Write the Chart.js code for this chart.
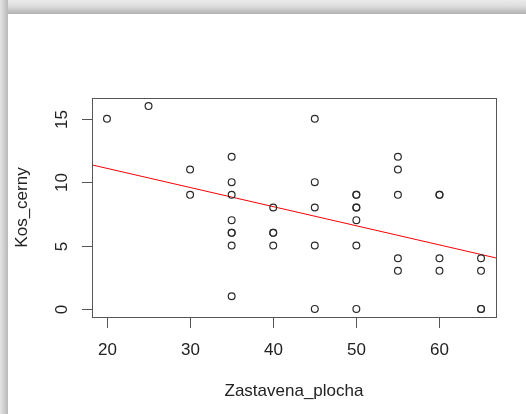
<!DOCTYPE html>
<html>
<head>
<meta charset="utf-8">
<script src="https://cdn.jsdelivr.net/npm/chart.js@4/dist/chart.umd.min.js"></script>
<style>
  body { margin: 0; background: #fff; }
  #wrap { position: relative; width: 526px; height: 414px; overflow: hidden; background: #fff; }
  #topShade { position: absolute; left: 0; top: 0; width: 526px; height: 14px;
    background: linear-gradient(to bottom, #ebebeb, #dcdcdc 45%, #b2b2b2); }
  #leftShade { position: absolute; left: 0; top: 0; width: 8px; height: 414px;
    background: linear-gradient(to right, #e4e4e4, #cfcfcf 50%, #b8b8b8); }
  canvas { position: absolute; left: 0; top: 0; }
</style>
</head>
<body>
<div id="wrap">
  <div id="topShade"></div>
  <div id="leftShade"></div>
  <canvas id="graf" width="526" height="414"></canvas>
</div>
<script>
// pozorovani: zastavena plocha (x) a pocet kosu cernych (y)
const zastavenaPlocha = [20, 25, 30, 30, 35, 35, 35, 35, 35, 35, 35, 35,
  40, 40, 40, 40, 45, 45, 45, 45, 45, 50, 50, 50, 50, 50, 50, 50,
  55, 55, 55, 55, 55, 60, 60, 60, 60, 65, 65, 65, 65];
const kosCerny = [15, 16, 11, 9, 12, 10, 9, 7, 6, 6, 5, 1,
  8, 6, 6, 5, 15, 10, 8, 5, 0, 9, 9, 8, 8, 7, 5, 0,
  12, 11, 9, 4, 3, 9, 9, 4, 3, 4, 3, 0, 0];

// regresni primka (konce na okrajich grafu)
const primkaX = [18.2, 66.8];
const primkaY = [11.36, 4.02];

const xTicks = [20, 30, 40, 50, 60];
const yTicks = [0, 5, 10, 15];
const nazevX = 'Zastavena_plocha';
const nazevY = 'Kos_cerny';

const body = zastavenaPlocha.map((x, i) => ({ x: x, y: kosCerny[i] }));
const primka = primkaX.map((x, i) => ({ x: x, y: primkaY[i] }));

const pismo = '17px "Liberation Sans", Arial, sans-serif';

// osy ve stylu R: ramecek, vnejsi carky a svisle popisky
const osyR = {
  id: 'osyR',
  afterDraw(chart) {
    const ctx = chart.ctx;
    const a = chart.chartArea;
    const sx = chart.scales.x;
    const sy = chart.scales.y;
    ctx.save();
    ctx.strokeStyle = '#555';
    ctx.lineWidth = 1;
    ctx.strokeRect(Math.round(a.left) + 0.5, Math.round(a.top) + 0.5,
      Math.round(a.right - a.left), Math.round(a.bottom - a.top));

    ctx.fillStyle = '#222';
    ctx.font = pismo;
    ctx.textAlign = 'center';
    ctx.textBaseline = 'middle';

    xTicks.forEach(v => {
      const px = Math.round(sx.getPixelForValue(v)) + 0.5;
      ctx.beginPath();
      ctx.moveTo(px, Math.round(a.bottom));
      ctx.lineTo(px, Math.round(a.bottom) + 11);
      ctx.stroke();
      ctx.fillText(String(v), px, a.bottom + 33);
    });

    yTicks.forEach(v => {
      const py = Math.round(sy.getPixelForValue(v)) + 0.5;
      ctx.beginPath();
      ctx.moveTo(Math.round(a.left) - 10, py);
      ctx.lineTo(Math.round(a.left), py);
      ctx.stroke();
      ctx.save();
      ctx.translate(a.left - 30, py);
      ctx.rotate(-Math.PI / 2);
      ctx.fillText(String(v), 0, 0);
      ctx.restore();
    });

    const stredX = (a.left + a.right) / 2;
    const stredY = (a.top + a.bottom) / 2;
    ctx.fillText(nazevX, stredX, a.bottom + 74);
    ctx.save();
    ctx.translate(22, stredY);
    ctx.rotate(-Math.PI / 2);
    ctx.fillText(nazevY, 0, 0);
    ctx.restore();
    ctx.restore();
  }
};

new Chart(document.getElementById('graf'), {
  type: 'scatter',
  data: {
    datasets: [
      {
        label: 'pozorovani',
        data: body,
        pointRadius: 3.4,
        pointBorderWidth: 1.2,
        borderColor: '#2a2a2a',
        backgroundColor: 'rgba(0,0,0,0)',
        pointHoverRadius: 3.4
      },
      {
        type: 'line',
        label: 'regrese',
        data: primka,
        borderColor: '#ff0000',
        borderWidth: 1,
        pointRadius: 0,
        fill: false
      }
    ]
  },
  options: {
    responsive: false,
    animation: false,
    layout: { padding: { left: 92, top: 98, right: 30, bottom: 97 } },
    plugins: { legend: { display: false }, tooltip: { enabled: false } },
    scales: {
      x: { type: 'linear', min: 18.2, max: 66.8, display: false },
      y: { type: 'linear', min: -0.64, max: 16.64, display: false }
    }
  },
  plugins: [osyR]
});
</script>
</body>
</html>
